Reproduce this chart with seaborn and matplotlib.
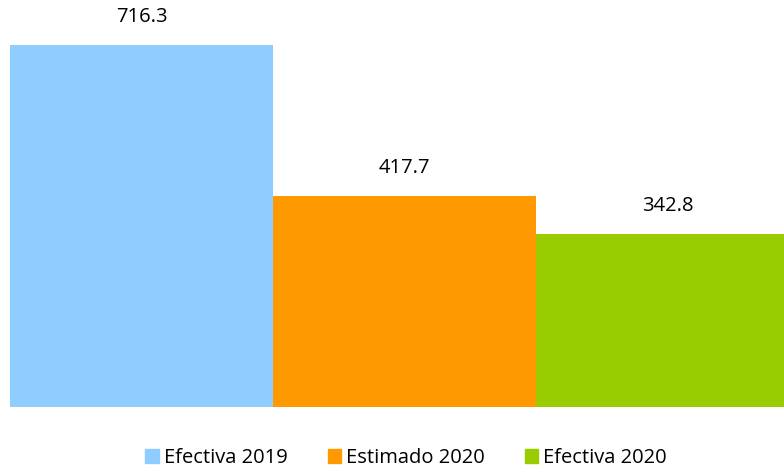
import matplotlib
matplotlib.use("Agg")
import matplotlib.pyplot as plt
import seaborn as sns
import pandas as pd
from matplotlib.patches import Patch

# data
categories = ["Efectiva 2019", "Estimado 2020", "Efectiva 2020"]
values = [716.3, 417.7, 342.8]
colors = ["#8FCCFF", "#FF9900", "#99CC00"]

df = pd.DataFrame({"cat": categories, "val": values})

sns.set_theme(style="white")
plt.rcParams["font.family"] = ["Open Sans", "DejaVu Sans"]

fig = plt.figure(figsize=(7.84, 4.72), dpi=100)
ax = fig.add_axes([10 / 784, 65 / 472, 774 / 784, 362 / 472])

sns.barplot(data=df, x="cat", y="val", hue="cat", palette=colors,
            width=1.0, saturation=1, legend=False, linewidth=0, ax=ax)

ax.set_xlim(-0.5, 2.443)
ax.set_ylim(0, 716.3)
ax.axis("off")

for i, v in enumerate(values):
    ax.annotate(f"{v:.1f}", (i, v), xytext=(0, 13), textcoords="offset points",
                ha="center", va="bottom", fontsize=14.5, color="black",
                annotation_clip=False)

handles = [Patch(color=c, label=l) for c, l in zip(colors, categories)]
fig.legend(handles=handles, loc="center", bbox_to_anchor=(406 / 784, 1 - 458 / 472),
           ncol=3, frameon=False, fontsize=14.5, handlelength=0.65, handleheight=0.65,
           handletextpad=0.25, columnspacing=2.0, labelcolor="black")

fig.savefig("out.png", dpi=100)
